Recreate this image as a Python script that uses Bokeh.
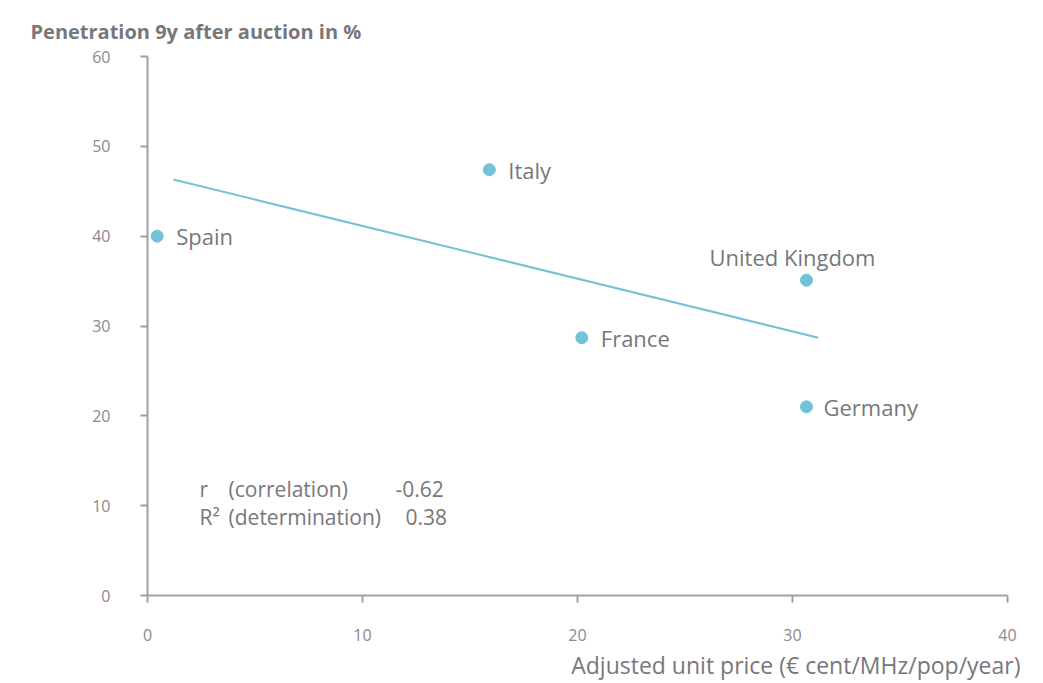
from bokeh.plotting import figure
from bokeh.models import Label, Range1d, FixedTicker, ColumnDataSource, Title
from bokeh.embed import file_html
from bokeh.resources import INLINE

countries = ["Spain", "Italy", "United Kingdom", "France", "Germany"]
price = [0.45, 15.9, 30.65, 20.2, 30.65]
penetration = [40.0, 47.4, 35.1, 28.7, 21.0]
trend_x = [1.2, 31.2]
trend_y = [46.3, 28.7]
x_ticks = [0, 10, 20, 30, 40]
y_ticks = [0, 10, 20, 30, 40, 50, 60]
r_value = -0.62
r2_value = 0.38

FONT = "Open Sans"
AXIS_COLOR = "#a0a0a4"
TEXT_COLOR = "#77777b"
TICK_COLOR = "#8a8a8e"
BLUE = "#72c2d8"

p = figure(width=1040, height=683, output_backend="svg", toolbar_location=None,
           x_range=Range1d(0, 40), y_range=Range1d(0, 60),
           min_border_left=147, min_border_right=33, min_border_top=56, min_border_bottom=87)
p.outline_line_color = None
p.xgrid.grid_line_color = None
p.ygrid.grid_line_color = None
p.background_fill_color = "white"
p.border_fill_color = "white"

for ax, ticks in ((p.xaxis[0], x_ticks), (p.yaxis[0], y_ticks)):
    ax.ticker = FixedTicker(ticks=ticks)
    ax.axis_line_color = AXIS_COLOR
    ax.axis_line_width = 2
    ax.major_tick_line_color = AXIS_COLOR
    ax.major_tick_line_width = 2
    ax.major_tick_out = 7
    ax.major_tick_in = 0
    ax.minor_tick_out = 0
    ax.minor_tick_in = 0
    ax.major_label_text_font = FONT
    ax.major_label_text_font_size = "16px"
    ax.major_label_text_color = TICK_COLOR
p.xaxis.major_label_standoff = 26
p.yaxis.major_label_standoff = 30

src = ColumnDataSource(dict(x=price, y=penetration, name=countries))
p.line(trend_x, trend_y, line_color=BLUE, line_width=2)
p.scatter("x", "y", source=src, size=12, fill_color=BLUE, line_color=BLUE)

# country labels: (x_offset, y_offset, align)
label_style = {
    "Spain": (19, 0, "left"),
    "Italy": (19, 0, "left"),
    "France": (19, 0, "left"),
    "Germany": (17, 0, "left"),
    "United Kingdom": (-14, 23, "center"),
}
for name, xv, yv in zip(countries, price, penetration):
    dx, dy, al = label_style[name]
    p.add_layout(Label(x=xv, y=yv, text=name, x_offset=dx, y_offset=dy,
                       text_align=al, text_baseline="middle",
                       text_font=FONT, text_font_size="22px",
                       text_color=TEXT_COLOR, text_font_style="normal"))

# statistics box
stat_rows = [("r", "(correlation)", f"{r_value:.2f}", 11.9, 11.53),
             ("R²", "(determination)", f"{r2_value:.2f}", 8.7, 12.0)]
for c1, c2, c3, yv, x3 in stat_rows:
    for txt, xv in ((c1, 2.42), (c2, 3.77), (c3, x3)):
        p.add_layout(Label(x=xv, y=yv, text=txt, text_align="left", text_baseline="middle",
                           text_font=FONT, text_font_size="21px", text_color=TEXT_COLOR))

# axis titles
p.title = Title(text="Penetration 9y after auction in %", align="left", offset=-117,
                standoff=24, text_line_height=0.5, text_font=FONT, text_font_size="20px",
                text_font_style="bold", text_color=TEXT_COLOR)
p.add_layout(Title(text="Adjusted unit price (€ cent/MHz/pop/year)", align="right",
                   offset=-13, standoff=6, text_line_height=0.6, text_font=FONT,
                   text_font_size="23px", text_font_style="normal", text_color=TEXT_COLOR),
             "below")

open("out.html", "w").write(file_html(p, INLINE))
